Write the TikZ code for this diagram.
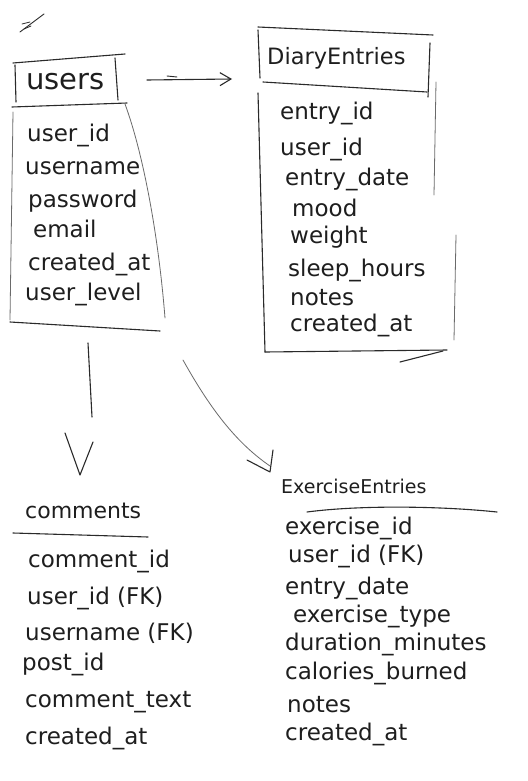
\documentclass[tikz,border=0pt]{standalone}
\usepackage{fontspec}
\setmainfont{DejaVu Sans}
\usetikzlibrary{arrows.meta}
\definecolor{ink}{HTML}{1E1E1E}
\definecolor{pen}{HTML}{2A2A2A}
\tikzset{
  rowtxt/.style={anchor=base west, inner sep=0pt, text=ink, font=\fontsize{23}{26}\selectfont},
  headtxt/.style={anchor=base west, inner sep=0pt, text=ink},
  stroke/.style={draw=pen, line width=1.1pt, line cap=round, line join=round},
  thin/.style={draw=pen!70, line width=0.8pt, line cap=round}
}
\begin{document}
\begin{tikzpicture}[x=1pt,y=-1pt]
\useasboundingbox (0,0) rectangle (527,781);
\fill[white] (0,0) rectangle (527,781);

% small scribble top-left
\draw[stroke, line width=0.9pt] (20,32) -- (44,14);
\draw[stroke, line width=0.8pt] (22,24) -- (30,22) (24,29) -- (31,26);

% ---------------- users ----------------
\node[headtxt, font=\fontsize{29}{31}\selectfont] (usersH) at (26,90) {users};
\draw[stroke] (13,63) -- (125,54);
\draw[stroke] (15,65) -- (16,102);
\draw[stroke] (115,58) -- (118,100);
\draw[stroke] (12,107) -- (127,103);
\draw[thin] (13,112) -- (10,320);
\draw[thin] (125,104) .. controls (142,150) and (158,230) .. (165,318);
\draw[stroke] (10,322) -- (160,331);
\node[rowtxt] (u1) at (27,142) {user\_id};
\node[rowtxt] (u2) at (25,174) {username};
\node[rowtxt] (u3) at (28,207) {password};
\node[rowtxt] (u4) at (33,237) {email};
\node[rowtxt] (u5) at (28,270) {created\_at};
\node[rowtxt] (u6) at (25,300) {user\_level};

% ---------------- DiaryEntries ----------------
\node[headtxt, font=\fontsize{22.5}{24}\selectfont] (diaryH) at (267,65) {DiaryEntries};
\draw[stroke] (258,27) -- (433,35);
\draw[stroke] (258,30) -- (260,78);
\draw[stroke] (430,43) -- (428,97);
\draw[stroke] (263,82) -- (427,92);
\draw[stroke] (258,93) -- (265,352);
\draw[thin] (436,82) -- (434,195);
\draw[thin] (456,235) -- (454,340);
\draw[stroke] (265,352) -- (447,350);
\draw[stroke] (400,362) -- (443,351);
\node[rowtxt] (d1) at (280,120) {entry\_id};
\node[rowtxt] (d2) at (280,155) {user\_id};
\node[rowtxt] (d3) at (285,185) {entry\_date};
\node[rowtxt] (d4) at (292,216) {mood};
\node[rowtxt] (d5) at (290,243) {weight};
\node[rowtxt] (d6) at (288,276) {sleep\_hours};
\node[rowtxt] (d7) at (290,305) {notes};
\node[rowtxt] (d8) at (290,331) {created\_at};

% ---------------- comments ----------------
\node[headtxt, font=\fontsize{22}{24}\selectfont] (commH) at (25,518) {comments};
\draw[stroke] (13,533) -- (148,537);
\node[rowtxt] (c1) at (28,567) {comment\_id};
\node[rowtxt] (c2) at (27,604) {user\_id (FK)};
\node[rowtxt] (c3) at (25,640) {username (FK)};
\node[rowtxt] (c4) at (22,670) {post\_id};
\node[rowtxt] (c5) at (25,707) {comment\_text};
\node[rowtxt] (c6) at (25,744) {created\_at};

% ---------------- ExerciseEntries ----------------
\node[headtxt, font=\fontsize{19}{21}\selectfont] (exH) at (281,493) {ExerciseEntries};
\draw[stroke] (307,512) .. controls (360,505) and (440,506) .. (497,512);
\node[rowtxt] (e1) at (285,534) {exercise\_id};
\node[rowtxt] (e2) at (288,562) {user\_id (FK)};
\node[rowtxt] (e3) at (285,594) {entry\_date};
\node[rowtxt] (e4) at (293,622) {exercise\_type};
\node[rowtxt] (e5) at (285,650) {duration\_minutes};
\node[rowtxt] (e6) at (285,679) {calories\_burned};
\node[rowtxt] (e7) at (287,712) {notes};
\node[rowtxt] (e8) at (285,740) {created\_at};

% ---------------- connectors ----------------
\coordinate (uOutR) at (147,80);
\coordinate (dIn) at (232,79);
\draw[stroke, -{Straight Barb[length=11pt,width=13pt,line width=1.1pt]}] (uOutR) -- (dIn);
\draw[stroke, line width=0.9pt] (167,76) -- (177,77);

\coordinate (uOutB) at (88,343);
\coordinate (cMid) at (92,417);
\draw[stroke] (uOutB) -- (cMid);
\coordinate (cTip) at (80,475);
\draw[stroke] (65,433) -- (cTip) -- (93,442);

\coordinate (uOutC) at (183,360);
\coordinate (eIn) at (270,466);
\draw[thin] (uOutC) .. controls (212,412) and (238,444) .. (eIn);
\coordinate (eTip) at (270,472);
\draw[stroke] (247,460) -- (eTip) -- (273,450);
\end{tikzpicture}
\end{document}
